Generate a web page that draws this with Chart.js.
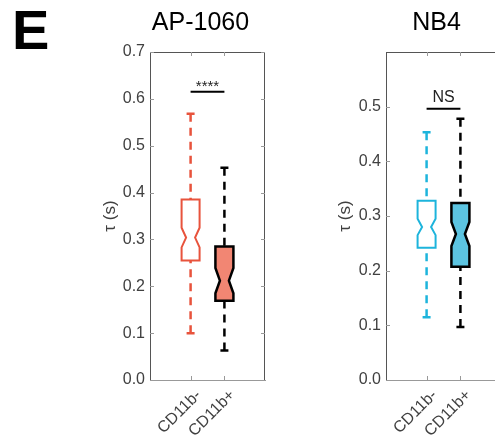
<!DOCTYPE html>
<html>
<head>
<meta charset="utf-8">
<script src="https://cdn.jsdelivr.net/npm/chart.js@4.4.1/dist/chart.umd.min.js"></script>
<style>
  html, body { margin: 0; padding: 0; background: #fff; overflow: hidden; width: 495px; height: 439px; }
  #panelLabel { position: absolute; left: 12px; top: 2px; font: bold 56px/56px "Liberation Sans", Arial, sans-serif; color: #000; }
  canvas { position: absolute; top: 0; }
  #apChart { left: 97px; }
  #nbChart { left: 332px; }
</style>
</head>
<body>
<div id="panelLabel">E</div>
<canvas id="apChart" width="193" height="439"></canvas>
<canvas id="nbChart" width="173" height="439"></canvas>
<script>
const categories = ["CD11b-", "CD11b+"];

// AP-1060 box statistics (tau in seconds)
const apLowWhisker = [0.100, 0.063];
const apQ1 = [0.255, 0.169];
const apMedian = [0.304, 0.212];
const apQ3 = [0.385, 0.285];
const apHighWhisker = [0.568, 0.453];
const apNotchLow = [0.283, 0.185];
const apNotchHigh = [0.325, 0.239];
const apTicks = [0, 0.1, 0.2, 0.3, 0.4, 0.5, 0.6, 0.7];
const apSignif = "****";
const apSignifY = 0.615;

// NB4 box statistics
const nbLowWhisker = [0.115, 0.097];
const nbQ1 = [0.242, 0.207];
const nbMedian = [0.280, 0.267];
const nbQ3 = [0.328, 0.324];
const nbHighWhisker = [0.453, 0.478];
const nbNotchLow = [0.265, 0.245];
const nbNotchHigh = [0.295, 0.289];
const nbTicks = [0, 0.1, 0.2, 0.3, 0.4, 0.5];
const nbSignif = "NS";
const nbSignifY = 0.496;

const FONT = "'Liberation Sans', Arial, sans-serif";
Chart.defaults.font.family = FONT;

// draws notched boxes, whiskers, frame and annotations through the chart scales
function boxPlugin(p) {
    return {
        id: "notchedBoxes",
        afterDraw(chart) {
            const { ctx, chartArea: a, scales: { x, y } } = chart;
            ctx.save();

            // top and right frame
            ctx.strokeStyle = "#555";
            ctx.lineWidth = 1;
            ctx.beginPath();
            ctx.moveTo(a.left, a.top + 0.5);
            ctx.lineTo(a.right - 0.5, a.top + 0.5);
            ctx.lineTo(a.right - 0.5, a.bottom);
            ctx.stroke();

            // inward tick marks
            ctx.strokeStyle = "#999";
            ctx.beginPath();
            p.ticks.forEach(v => {
                const ty = Math.round(y.getPixelForValue(v)) + 0.5;
                ctx.moveTo(a.left, ty); ctx.lineTo(a.left + 4, ty);
                ctx.moveTo(a.right, ty); ctx.lineTo(a.right - 4, ty);
            });
            categories.forEach((c, i) => {
                const tx = Math.round(x.getPixelForValue(i)) + 0.5;
                ctx.moveTo(tx, a.bottom); ctx.lineTo(tx, a.bottom - 4);
                ctx.moveTo(tx, a.top); ctx.lineTo(tx, a.top + 4);
            });
            ctx.stroke();

            const half = 9, notch = 4.5, cap = 4;
            categories.forEach((c, i) => {
                const cx = x.getPixelForValue(i);
                const yLo = y.getPixelForValue(p.lo[i]);
                const yQ1 = y.getPixelForValue(p.q1[i]);
                const yMed = y.getPixelForValue(p.med[i]);
                const yQ3 = y.getPixelForValue(p.q3[i]);
                const yHi = y.getPixelForValue(p.hi[i]);
                const yNL = y.getPixelForValue(p.notchLo[i]);
                const yNH = y.getPixelForValue(p.notchHi[i]);

                // dashed whiskers
                ctx.strokeStyle = p.lineColors[i];
                ctx.lineWidth = 2.5;
                ctx.setLineDash([8, 6]);
                ctx.beginPath();
                ctx.moveTo(cx, yHi); ctx.lineTo(cx, yQ3);
                ctx.moveTo(cx, yLo); ctx.lineTo(cx, yQ1);
                ctx.stroke();
                ctx.setLineDash([]);
                ctx.beginPath();
                ctx.moveTo(cx - cap, yHi); ctx.lineTo(cx + cap, yHi);
                ctx.moveTo(cx - cap, yLo); ctx.lineTo(cx + cap, yLo);
                ctx.stroke();

                // notched box
                ctx.beginPath();
                ctx.moveTo(cx - half, yQ3);
                ctx.lineTo(cx + half, yQ3);
                ctx.lineTo(cx + half, yNH);
                ctx.lineTo(cx + half - notch, yMed);
                ctx.lineTo(cx + half, yNL);
                ctx.lineTo(cx + half, yQ1);
                ctx.lineTo(cx - half, yQ1);
                ctx.lineTo(cx - half, yNL);
                ctx.lineTo(cx - half + notch, yMed);
                ctx.lineTo(cx - half, yNH);
                ctx.closePath();
                if (p.fills[i]) {
                    ctx.fillStyle = p.fills[i];
                    ctx.fill();
                }
                ctx.strokeStyle = p.lineColors[i];
                ctx.lineWidth = p.fills[i] ? 2.5 : 2;
                ctx.stroke();
            });

            // significance bar
            const sy = y.getPixelForValue(p.sigY);
            const x0 = x.getPixelForValue(0), x1 = x.getPixelForValue(1);
            ctx.strokeStyle = "#000";
            ctx.lineWidth = 2;
            ctx.beginPath();
            ctx.moveTo(x0, sy); ctx.lineTo(x1, sy);
            ctx.stroke();
            ctx.fillStyle = "#222";
            ctx.textAlign = "center";
            ctx.textBaseline = "alphabetic";
            ctx.font = p.sigFont + "px " + FONT;
            ctx.fillText(p.sig, (x0 + x1) / 2, sy - p.sigGap);

            // panel title
            ctx.fillStyle = "#000";
            ctx.font = "25px " + FONT;
            ctx.fillText(p.title, (a.left + a.right) / 2 - 7, 30);
            ctx.restore();
        }
    };
}

function makeChart(id, p) {
    return new Chart(document.getElementById(id), {
        type: "scatter",
        data: {
            datasets: [{
                data: categories.map((c, i) => ({ x: i, y: p.med[i] })),
                pointRadius: 0,
                pointHoverRadius: 0,
            }],
        },
        options: {
            responsive: false,
            animation: false,
            events: [],
            layout: { padding: { top: 52, right: p.padRight, bottom: 0, left: 0 } },
            plugins: { legend: { display: false }, tooltip: { enabled: false } },
            scales: {
                x: {
                    type: "linear",
                    min: -1.2,
                    max: 2.2,
                    afterBuildTicks: s => { s.ticks = categories.map((c, i) => ({ value: i })); },
                    afterFit: s => { s.height = 59; },
                    grid: { display: false, drawTicks: false },
                    border: { display: true, color: "#999" },
                    ticks: {
                        autoSkip: false,
                        minRotation: 45,
                        maxRotation: 45,
                        padding: 6,
                        labelOffset: 8,
                        color: "#404040",
                        font: { size: 16 },
                        callback: v => categories[v],
                    },
                },
                y: {
                    min: 0,
                    max: p.yMax,
                    afterBuildTicks: s => { s.ticks = p.ticks.map(v => ({ value: v })); },
                    afterFit: s => { s.width = p.yWidth; },
                    grid: { display: false, drawTicks: false },
                    border: { display: true, color: "#555" },
                    ticks: {
                        padding: 5,
                        color: "#404040",
                        font: { size: 16 },
                        callback: v => v.toFixed(1),
                    },
                    title: {
                        display: true,
                        text: "τ (s)",
                        color: "#404040",
                        font: { size: 17 },
                        padding: { top: 3, bottom: 0 },
                    },
                },
            },
        },
        plugins: [boxPlugin(p)],
    });
}

const apChart = makeChart("apChart", {
    title: "AP-1060",
    lo: apLowWhisker, q1: apQ1, med: apMedian, q3: apQ3, hi: apHighWhisker,
    notchLo: apNotchLow, notchHi: apNotchHigh,
    ticks: apTicks, yMax: 0.7,
    sig: apSignif, sigY: apSignifY, sigFont: 15, sigGap: 1,
    lineColors: ["#e8533c", "#000"],
    fills: [null, "#f28673"],
    yWidth: 53, padRight: 25,
});

const nbChart = makeChart("nbChart", {
    title: "NB4",
    lo: nbLowWhisker, q1: nbQ1, med: nbMedian, q3: nbQ3, hi: nbHighWhisker,
    notchLo: nbNotchLow, notchHi: nbNotchHigh,
    ticks: nbTicks, yMax: 0.6,
    sig: nbSignif, sigY: nbSignifY, sigFont: 16, sigGap: 7,
    lineColors: ["#1db4dc", "#000"],
    fills: [null, "#5cc4e1"],
    yWidth: 54, padRight: 4,
});
</script>
</body>
</html>
